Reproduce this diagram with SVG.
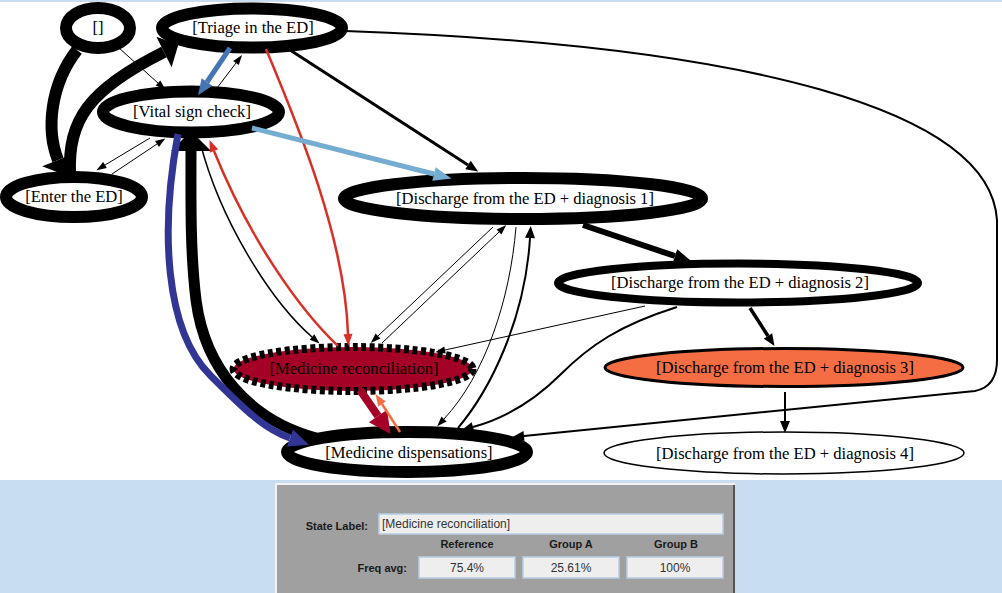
<svg xmlns="http://www.w3.org/2000/svg" width="1002" height="593" viewBox="0 0 1002 593">
<style>
.n{fill:#fff;stroke:#000}
.t{font-family:"Liberation Serif","Times New Roman",serif;font-size:16.6px;text-anchor:middle;fill:#000}
.e{fill:none;stroke:#000}
.pl{font-family:"Liberation Sans",Arial,sans-serif;font-size:11px;font-weight:bold;fill:#1a1a1a}
.pv{font-family:"Liberation Sans",Arial,sans-serif;font-size:12px;fill:#333;text-anchor:middle}
.box{fill:#eeeeee;stroke:#b7cde4;stroke-width:1.5}
</style>
<defs>
<marker id="a1" markerUnits="userSpaceOnUse" markerWidth="10" markerHeight="7" refX="0" refY="3.5" orient="auto" overflow="visible"><path d="M0,0L10,3.5L0,7Z" fill="#000"/></marker>
<marker id="a2" markerUnits="userSpaceOnUse" markerWidth="12" markerHeight="10" refX="0" refY="5" orient="auto" overflow="visible"><path d="M0,0L12,5L0,10Z" fill="#000"/></marker>
<marker id="a3" markerUnits="userSpaceOnUse" markerWidth="18" markerHeight="14" refX="0" refY="7" orient="auto" overflow="visible"><path d="M0,0L18,7L0,14Z" fill="#000"/></marker>
<marker id="a4" markerUnits="userSpaceOnUse" markerWidth="20" markerHeight="40" refX="0" refY="20" orient="auto" overflow="visible"><path d="M0,0L20,20L0,40Z" fill="#000"/></marker>
<marker id="a5" markerUnits="userSpaceOnUse" markerWidth="16" markerHeight="34" refX="0" refY="17" orient="auto" overflow="visible"><path d="M0,0L16,17L0,34Z" fill="#000"/></marker>
<marker id="ar" markerUnits="userSpaceOnUse" markerWidth="12" markerHeight="9" refX="0" refY="4.5" orient="auto" overflow="visible"><path d="M0,0L12,4.5L0,9Z" fill="#d73027"/></marker>
<marker id="ab" markerUnits="userSpaceOnUse" markerWidth="16" markerHeight="13" refX="0" refY="6.5" orient="auto" overflow="visible"><path d="M0,0L16,6.5L0,13Z" fill="#4575b4"/></marker>
<marker id="al" markerUnits="userSpaceOnUse" markerWidth="18" markerHeight="14" refX="0" refY="7" orient="auto" overflow="visible"><path d="M0,0L18,7L0,14Z" fill="#74add1"/></marker>
<marker id="an" markerUnits="userSpaceOnUse" markerWidth="20" markerHeight="18" refX="0" refY="9" orient="auto" overflow="visible"><path d="M0,0L20,9L0,18Z" fill="#313695"/></marker>
<marker id="ad" markerUnits="userSpaceOnUse" markerWidth="22" markerHeight="22" refX="0" refY="11" orient="auto" overflow="visible"><path d="M0,0L22,11L0,22Z" fill="#a50026"/></marker>
<marker id="ao" markerUnits="userSpaceOnUse" markerWidth="12" markerHeight="9" refX="0" refY="4.5" orient="auto" overflow="visible"><path d="M0,0L12,4.5L0,9Z" fill="#f46d43"/></marker>
</defs>
<rect x="0" y="0" width="1002" height="593" fill="#c9ddf1"/>
<rect x="0" y="2" width="1002" height="478" fill="#fff"/>

<g id="nodes">
<g id="n_empty"><ellipse class="n" cx="98" cy="28" rx="32" ry="20" stroke-width="12"/><text class="t" x="98" y="33">[]</text></g>
<g id="n_triage"><ellipse class="n" cx="252" cy="28" rx="90" ry="19.5" stroke-width="12"/><text class="t" x="253" y="33">[Triage in the ED]</text></g>
<g id="n_vital"><ellipse class="n" cx="191" cy="112" rx="88" ry="20.5" stroke-width="12"/><text class="t" x="192" y="117">[Vital sign check]</text></g>
<g id="n_enter"><ellipse class="n" cx="74" cy="197" rx="68" ry="20" stroke-width="12"/><text class="t" x="74" y="202">[Enter the ED]</text></g>
<g id="n_d1"><ellipse class="n" cx="523" cy="198.5" rx="179" ry="20.5" stroke-width="12"/><text class="t" x="525" y="204">[Discharge from the ED + diagnosis 1]</text></g>
<g id="n_d2"><ellipse class="n" cx="738" cy="283" rx="180" ry="19.5" stroke-width="8"/><text class="t" x="740" y="288">[Discharge from the ED + diagnosis 2]</text></g>
<g id="n_rec"><ellipse cx="353" cy="369" rx="119.5" ry="22" fill="#a50026" stroke="#000" stroke-width="8" stroke-dasharray="5,3.5"/><text class="t" x="354" y="374">[Medicine reconciliation]</text></g>
<g id="n_d3"><ellipse cx="784" cy="367.5" rx="179" ry="19" fill="#f46d43" stroke="#000" stroke-width="3"/><text class="t" x="785" y="373">[Discharge from the ED + diagnosis 3]</text></g>
<g id="n_disp"><ellipse class="n" cx="407" cy="452" rx="120" ry="20" stroke-width="12"/><text class="t" x="409" y="458">[Medicine dispensations]</text></g>
<g id="n_d4"><ellipse class="n" cx="784" cy="453" rx="180" ry="21" stroke-width="1.5"/><text class="t" x="785" y="459">[Discharge from the ED + diagnosis 4]</text></g>
</g>

<g id="edges">
<path class="e" d="M77,50 C50,85 46,130 58,160" stroke-width="12" marker-end="url(#a5)"/>
<path class="e" d="M70,174 C68,120 88,90 164,52" stroke-width="12" marker-end="url(#a5)"/>
<path class="e" d="M119,48 L158,83" stroke-width="1" marker-end="url(#a1)"/>
<path d="M230,48 L207,82" fill="none" stroke="#4575b4" stroke-width="5" marker-end="url(#ab)"/>
<path class="e" d="M217,88 L236,63" stroke-width="1" marker-end="url(#a1)"/>
<path d="M266,49 C300,130 345,240 348,334" fill="none" stroke="#d73027" stroke-width="2.5" marker-end="url(#ar)"/>
<path class="e" d="M290,50 L468,165" stroke-width="3" marker-end="url(#a2)"/>
<path class="e" d="M345,31 C750,45 990,110 997,220 L997,360 C997,378 990,388 975,391 L524,436" stroke-width="2" marker-end="url(#a2)"/>
<path d="M252,128 L434,174" fill="none" stroke="#74add1" stroke-width="5" marker-end="url(#al)"/>
<path class="e" d="M112,174 L157,144" stroke-width="1" marker-end="url(#a1)"/>
<path class="e" d="M150,138 L105,165" stroke-width="1" marker-end="url(#a1)"/>
<path class="e" d="M316,438 C250,420 205,370 196,300 C190,250 191,200 191,151" stroke-width="11" marker-end="url(#a4)"/>
<path d="M178,134 C160,230 165,330 210,375 C240,405 262,428 290,438" fill="none" stroke="#313695" stroke-width="7" marker-end="url(#an)"/>
<path class="e" d="M200,142 C220,220 270,300 312,337" stroke-width="1.5" marker-end="url(#a1)"/>
<path d="M338,346 C300,310 250,240 214,151" fill="none" stroke="#d73027" stroke-width="2.5" marker-end="url(#ar)"/>
<path class="e" d="M493,227 L378,336" stroke-width="1" marker-end="url(#a1)"/>
<path class="e" d="M382,343 L499,232" stroke-width="1" marker-end="url(#a1)"/>
<path class="e" d="M516,227 C510,300 485,375 444,419" stroke-width="1" marker-end="url(#a1)"/>
<path class="e" d="M458,428 C490,390 525,320 530,238" stroke-width="2" marker-end="url(#a2)"/>
<path class="e" d="M583,225 L675,256" stroke-width="6" marker-end="url(#a3)"/>
<path class="e" d="M645,306 L445,350" stroke-width="1" marker-end="url(#a1)"/>
<path class="e" d="M677,307 C620,325 590,345 560,375 C535,400 505,418 473,427" stroke-width="2" marker-end="url(#a2)"/>
<path class="e" d="M750,308 L768,336" stroke-width="3.5" marker-end="url(#a2)"/>
<path class="e" d="M785,392 L785,421" stroke-width="2" marker-end="url(#a2)"/>
<path d="M360,390 L378,416" fill="none" stroke="#a50026" stroke-width="8" marker-end="url(#ad)"/>
<path d="M400,432 L382,404" fill="none" stroke="#f46d43" stroke-width="2.5" marker-end="url(#ao)"/>
</g>

<g id="panel">
<rect x="275" y="483" width="460" height="110" fill="#f2f2f2"/>
<rect x="277" y="485" width="456" height="108" fill="#a0a0a0"/>
<rect x="733" y="485" width="2" height="108" fill="#555"/>
<text class="pl" x="368" y="530" text-anchor="end">State Label:</text>
<rect class="box" x="379" y="514" width="344" height="20"/>
<text x="382" y="528" style="font-family:'Liberation Sans',Arial,sans-serif;font-size:12px;fill:#333">[Medicine reconciliation]</text>
<text class="pl" x="467" y="548" text-anchor="middle">Reference</text>
<text class="pl" x="571" y="548" text-anchor="middle">Group A</text>
<text class="pl" x="676" y="548" text-anchor="middle">Group B</text>
<text class="pl" x="407" y="572" text-anchor="end">Freq avg:</text>
<rect class="box" x="419" y="557" width="96" height="21"/>
<rect class="box" x="523" y="557" width="96" height="21"/>
<rect class="box" x="627" y="557" width="96" height="21"/>
<text class="pv" x="467" y="572">75.4%</text>
<text class="pv" x="571" y="572">25.61%</text>
<text class="pv" x="675" y="572">100%</text>
</g>
</svg>
